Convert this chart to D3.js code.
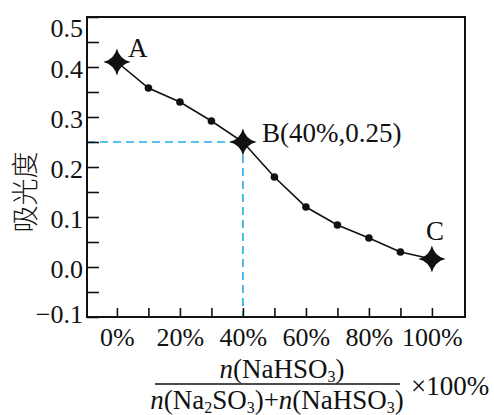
<!DOCTYPE html>
<html>
<head>
<meta charset="utf-8">
<script src="https://cdn.jsdelivr.net/npm/d3@7"></script>
<style>
  body { margin: 0; background: #fff; }
  svg text { font-family: "Liberation Serif", "Times New Roman", serif; fill: #111; }
</style>
</head>
<body>
<svg id="chart" width="494" height="415"></svg>
<script>
// data
const ratios = [0, 10, 20, 30, 40, 50, 60, 70, 80, 90, 100];
const absorb = [0.41, 0.358, 0.33, 0.292, 0.25, 0.18, 0.12, 0.084, 0.058, 0.03, 0.016];
const starLabels = ["A", null, null, null, "B(40%,0.25)", null, null, null, null, null, "C"];
const xTicks = [0, 10, 20, 30, 40, 50, 60, 70, 80, 90, 100];
const xLabelTicks = [0, 20, 40, 60, 80, 100];
const yTicks = [-0.1, -0.05, 0, 0.05, 0.1, 0.15, 0.2, 0.25, 0.3, 0.35, 0.4, 0.45, 0.5];
const yLabelTicks = [-0.1, 0, 0.1, 0.2, 0.3, 0.4, 0.5];

const serif = "'Liberation Serif', 'Times New Roman', serif";
const svg = d3.select("#chart");
const pLeft = 87, pRight = 465, pTop = 17, pBottom = 317;

const x = d3.scaleLinear().domain([-9.5, 110.5]).range([pLeft, pRight]);
const y = d3.scaleLinear().domain([-0.1, 0.5]).range([pBottom, pTop]);

const data = ratios.map((r, i) => ({ r: r, v: absorb[i], label: starLabels[i] }));

// dashed guides for point B
const B = data[4];
svg.append("path")
    .attr("d", `M${pLeft},${y(B.v)}H${x(B.r)}V${pBottom}`)
    .attr("fill", "none")
    .attr("stroke", "#1eaee8")
    .attr("stroke-width", 1.6)
    .attr("stroke-dasharray", "8,5");

// axes, ticks pointing inward
const fmtY = d3.format(".1f");
const yAxis = svg.append("g")
    .attr("transform", `translate(${pLeft},0)`)
    .call(d3.axisLeft(y).tickValues(yTicks).tickSize(-12).tickPadding(4)
        .tickFormat(d => yLabelTicks.some(t => Math.abs(t - d) < 1e-9) ? fmtY(d) : ""));
const xAxis = svg.append("g")
    .attr("transform", `translate(0,${pBottom})`)
    .call(d3.axisBottom(x).tickValues(xTicks).tickSize(-9).tickPadding(11)
        .tickFormat(d => xLabelTicks.includes(d) ? d + "%" : ""));
[yAxis, xAxis].forEach(g => {
    g.select(".domain").remove();
    g.selectAll(".tick line").attr("stroke", "#111").attr("stroke-width", 1.6);
    g.selectAll(".tick text").attr("font-size", 26)
        .style("font-family", serif).attr("fill", "#111");
});
// end labels sit inside the frame, as in the original
yAxis.selectAll(".tick text").attr("dy", d => d > 0.45 ? "0.74em" : d < -0.05 ? "0.2em" : "0.42em");

// frame
svg.append("rect")
    .attr("x", pLeft).attr("y", pTop)
    .attr("width", pRight - pLeft).attr("height", pBottom - pTop)
    .attr("fill", "none").attr("stroke", "#111").attr("stroke-width", 2);

// curve
const line = d3.line().x(d => x(d.r)).y(d => y(d.v));
svg.append("path")
    .datum(data)
    .attr("d", line)
    .attr("fill", "none")
    .attr("stroke", "#111")
    .attr("stroke-width", 1.6);

svg.selectAll(".dot")
    .data(data.filter(d => !d.label))
    .join("circle")
    .attr("class", "dot")
    .attr("cx", d => x(d.r))
    .attr("cy", d => y(d.v))
    .attr("r", 3.8)
    .attr("fill", "#111");

// four pointed star symbol
const star4 = {
    draw(ctx, size) {
        const R = Math.sqrt(size), c = R * 0.2;
        ctx.moveTo(0, -R);
        ctx.quadraticCurveTo(c, -c, R, 0);
        ctx.quadraticCurveTo(c, c, 0, R);
        ctx.quadraticCurveTo(-c, c, -R, 0);
        ctx.quadraticCurveTo(-c, -c, 0, -R);
        ctx.closePath();
    }
};
const stars = data.filter(d => d.label);
svg.selectAll(".star")
    .data(stars)
    .join("path")
    .attr("class", "star")
    .attr("transform", d => `translate(${x(d.r)},${y(d.v)})`)
    .attr("d", d3.symbol().type(star4).size(185))
    .attr("fill", "#111");

// point labels
const labelOffset = { "A": [11, -5], "B(40%,0.25)": [19, 0], "C": [-6, -19] };
svg.selectAll(".plabel")
    .data(stars)
    .join("text")
    .attr("class", "plabel")
    .attr("x", d => x(d.r) + labelOffset[d.label][0])
    .attr("y", d => y(d.v) + labelOffset[d.label][1])
    .attr("font-size", 27)
    .style("font-family", serif)
    .text(d => d.label);

// y title
svg.append("text")
    .attr("transform", "translate(25,192) rotate(-90)")
    .attr("text-anchor", "middle")
    .attr("dy", "0.36em")
    .attr("font-size", 27)
    .style("font-family", "'Noto Sans CJK SC', sans-serif")
    .style("font-weight", 300)
    .text("吸光度");

// x title as a fraction
const num = svg.append("text")
    .attr("x", 282).attr("y", 378)
    .attr("text-anchor", "middle")
    .attr("font-size", 27)
    .style("font-family", serif);
num.append("tspan").attr("font-style", "italic").text("n");
num.append("tspan").text("(NaHSO");
num.append("tspan").attr("font-size", 16).attr("dy", 4).text("3");
num.append("tspan").attr("dy", -4).text(")");

svg.append("line")
    .attr("x1", 155).attr("x2", 400)
    .attr("y1", 384).attr("y2", 384)
    .attr("stroke", "#111").attr("stroke-width", 1.5);

const den = svg.append("text")
    .attr("x", 277).attr("y", 409)
    .attr("text-anchor", "middle")
    .attr("font-size", 27)
    .style("font-family", serif);
den.append("tspan").attr("font-style", "italic").text("n");
den.append("tspan").text("(Na");
den.append("tspan").attr("font-size", 16).attr("dy", 4).text("2");
den.append("tspan").attr("dy", -4).text("SO");
den.append("tspan").attr("font-size", 16).attr("dy", 4).text("3");
den.append("tspan").attr("dy", -4).text(")+");
den.append("tspan").attr("font-style", "italic").text("n");
den.append("tspan").text("(NaHSO");
den.append("tspan").attr("font-size", 16).attr("dy", 4).text("3");
den.append("tspan").attr("dy", -4).text(")");

svg.append("text")
    .attr("x", 411).attr("y", 395)
    .attr("font-size", 27)
    .style("font-family", serif)
    .text("×100%");
</script>
</body>
</html>
